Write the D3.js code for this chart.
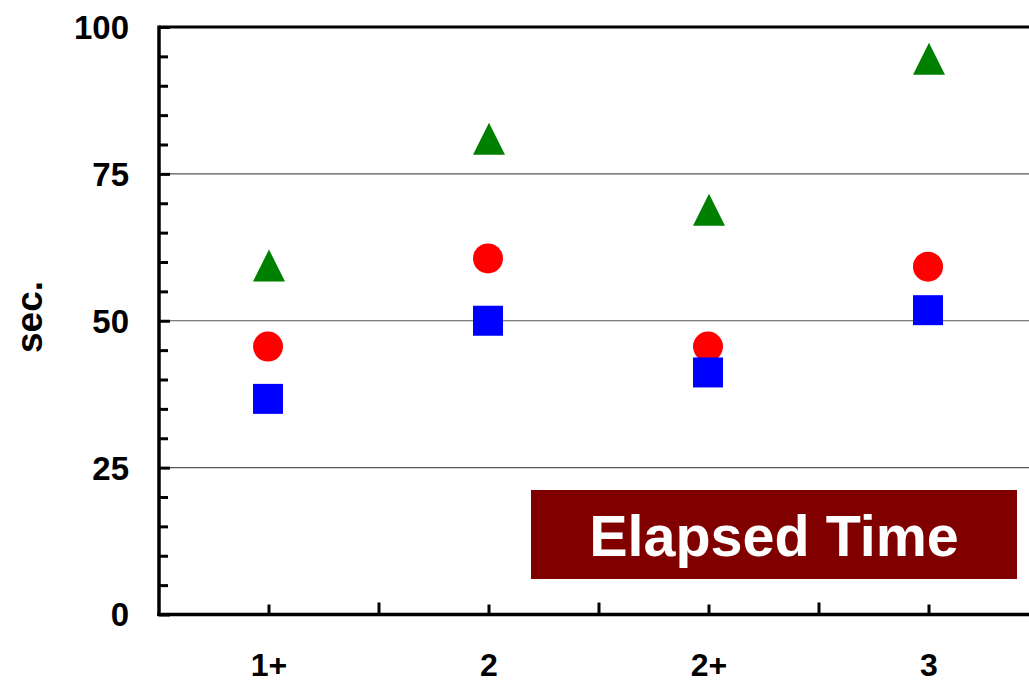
<!DOCTYPE html>
<html>
<head>
<meta charset="utf-8">
<script src="https://cdn.jsdelivr.net/npm/d3@7"></script>
<style>
  html, body { margin: 0; padding: 0; background: #fff; }
  svg { display: block; }
  text { font-family: "Liberation Sans", Arial, sans-serif; font-weight: bold; }
</style>
</head>
<body>
<svg id="chart" width="1029" height="683"></svg>
<script>
// Categories along the x axis
const categories = ["1+", "2", "2+", "3"];
// Elapsed times (sec.) per series
const triangleValues = [59.4, 81.0, 68.9, 94.6];
const circleValues   = [45.6, 60.6, 45.6, 59.2];
const squareValues   = [36.7, 50.0, 41.2, 51.8];
// Y axis ticks
const yMajorTicks = [0, 25, 50, 75, 100];
const yMinorTicks = d3.range(0, 101, 5).filter(v => v % 25 !== 0);
const yLabel = "sec.";
const titleText = "Elapsed Time";

const svg = d3.select("#chart");
const plotLeft = 159, plotRight = 1039, plotTop = 27, plotBottom = 614.5;

const x = d3.scaleBand().domain(categories).range([plotLeft, plotRight]);
const y = d3.scaleLinear().domain([0, 100]).range([plotBottom, plotTop]);

// Gridlines
svg.append("g").selectAll("line")
  .data(yMajorTicks.filter(v => v > 0 && v < 100))
  .join("line")
  .attr("x1", plotLeft).attr("x2", 1029)
  .attr("y1", d => y(d)).attr("y2", d => y(d))
  .attr("stroke", "#555").attr("stroke-width", 1.2);

// Top border of the plot area
svg.append("line")
  .attr("x1", plotLeft).attr("x2", 1029)
  .attr("y1", y(100)).attr("y2", y(100))
  .attr("stroke", "#000").attr("stroke-width", 3);

// Y axis with inward ticks
const yAxis = d3.axisRight(y).tickValues(yMajorTicks).tickSize(11).tickFormat("");
const gy = svg.append("g").attr("transform", `translate(${plotLeft},0)`).call(yAxis);
gy.select(".domain").remove();
gy.selectAll(".tick line").attr("stroke", "#000").attr("stroke-width", 3);
const yAxisMinor = d3.axisRight(y).tickValues(yMinorTicks).tickSize(9).tickFormat("");
const gym = svg.append("g").attr("transform", `translate(${plotLeft},0)`).call(yAxisMinor);
gym.select(".domain").remove();
gym.selectAll(".tick line").attr("stroke", "#000").attr("stroke-width", 3);

svg.append("line")
  .attr("x1", plotLeft).attr("x2", plotLeft)
  .attr("y1", plotTop - 1.5).attr("y2", plotBottom + 1.5)
  .attr("stroke", "#000").attr("stroke-width", 3.5);

// Y tick labels
svg.append("g").selectAll("text")
  .data(yMajorTicks)
  .join("text")
  .attr("x", 129).attr("y", d => y(d))
  .attr("dy", "0.36em")
  .attr("text-anchor", "end")
  .attr("font-size", 33)
  .text(d => d);

// X axis: ticks at category centres and boundaries, pointing up
const centers = categories.map(c => x(c) + x.bandwidth() / 2);
const bounds = categories.slice(1).map(c => x(c));
svg.append("g").selectAll("line")
  .data(centers).join("line")
  .attr("x1", d => d).attr("x2", d => d)
  .attr("y1", plotBottom).attr("y2", plotBottom - 10)
  .attr("stroke", "#000").attr("stroke-width", 3);
svg.append("g").selectAll("line")
  .data(bounds).join("line")
  .attr("x1", d => d).attr("x2", d => d)
  .attr("y1", plotBottom).attr("y2", plotBottom - 12)
  .attr("stroke", "#000").attr("stroke-width", 3);
svg.append("line")
  .attr("x1", plotLeft - 1.75).attr("x2", 1029)
  .attr("y1", plotBottom).attr("y2", plotBottom)
  .attr("stroke", "#000").attr("stroke-width", 3.5);

// X labels
svg.append("g").selectAll("text")
  .data(categories)
  .join("text")
  .attr("x", c => x(c) + x.bandwidth() / 2)
  .attr("y", 676)
  .attr("text-anchor", "middle")
  .attr("font-size", 32)
  .text(c => c);

// Y axis title
svg.append("text")
  .attr("transform", "translate(42,317) rotate(-90)")
  .attr("text-anchor", "middle")
  .attr("font-size", 37)
  .text(yLabel);

// Markers
const cx = (i) => x(categories[i]) + x.bandwidth() / 2;
svg.append("g").selectAll("path")
  .data(triangleValues)
  .join("path")
  .attr("d", (v, i) => {
    const px = cx(i), py = y(v);
    return `M${px},${py - 16} L${px + 16},${py + 16} L${px - 16},${py + 16} Z`;
  })
  .attr("fill", "#008000");
svg.append("g").selectAll("circle")
  .data(circleValues)
  .join("circle")
  .attr("cx", (v, i) => cx(i) - 1)
  .attr("cy", v => y(v))
  .attr("r", 15)
  .attr("fill", "#FF0000");
svg.append("g").selectAll("rect")
  .data(squareValues)
  .join("rect")
  .attr("x", (v, i) => cx(i) - 16)
  .attr("y", v => y(v) - 15)
  .attr("width", 30).attr("height", 30)
  .attr("fill", "#0000FF");

// Title box
svg.append("rect")
  .attr("x", 531).attr("y", 490)
  .attr("width", 486).attr("height", 89)
  .attr("fill", "#800000");
svg.append("text")
  .attr("x", 774).attr("y", 556)
  .attr("text-anchor", "middle")
  .attr("font-size", 57.5)
  .attr("fill", "#fff")
  .text(titleText);
</script>
</body>
</html>
